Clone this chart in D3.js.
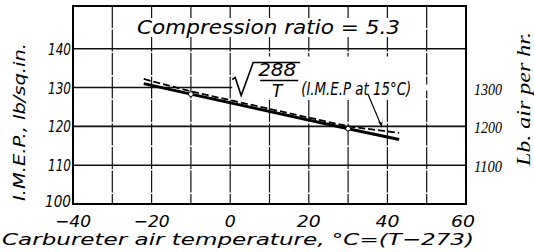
<!DOCTYPE html>
<html>
<head>
<meta charset="utf-8">
<script src="https://cdn.jsdelivr.net/npm/d3@7"></script>
<style>
  body { margin: 0; background: #fff; }
  svg { display: block; }
  .sans { font-family: "DejaVu Sans", "Liberation Sans", sans-serif; font-style: italic; }
  .serif { font-family: "Liberation Serif", "DejaVu Serif", serif; font-style: italic; }
</style>
</head>
<body>
<svg class="chart"></svg>
<script>
// temperature (deg C) and readings
const temps = [-22, -10, 30, 43];
const imep = [131, 128.3, 119.4, 116.6];          // lb/sq.in.
const corrected = [132.2, 129, 120, 118.3];        // sqrt(288/T) x I.M.E.P. at 15 C
const pointTemps = [-10, 30];
const pointImep = [128.3, 119.4];
const xTicks = [-40, -20, 0, 20, 40, 60];
const xGrid = [-30, -20, -10, 0, 10, 20, 30, 40, 50];
const yTicks = [100, 110, 120, 130, 140];
const airTicks = [1100, 1200, 1300];

function chart() {
    const width = 534, height = 252;
    const margin = {top: 6, right: 68, bottom: 48, left: 73};

    const svg = d3.select(".chart")
        .attr("width", width)
        .attr("height", height);

    const x = d3.scaleLinear()
        .domain([-40, 60])
        .range([margin.left, width - margin.right]);

    const y = d3.scaleLinear()
        .domain([100, 151])
        .range([height - margin.bottom, margin.top]);

    // right axis: lb air per hr, same heights as I.M.E.P. x 10
    const yAir = d3.scaleLinear()
        .domain([1000, 1510])
        .range([height - margin.bottom, margin.top]);

    const x0 = x.range()[0], x1 = x.range()[1];
    const y0 = y.range()[0], y1 = y.range()[1];

    // grid
    svg.append("g")
        .selectAll("line")
        .data(xGrid)
        .join("line")
        .attr("x1", d => x(d)).attr("x2", d => x(d))
        .attr("y1", y1).attr("y2", y0)
        .attr("stroke", "#111")
        .attr("stroke-width", 1.2)
        .attr("stroke-dasharray", "22,1.5");

    svg.append("g")
        .selectAll("line")
        .data(yTicks.slice(1))
        .join("line")
        .attr("x1", x0).attr("x2", x1)
        .attr("y1", d => y(d)).attr("y2", d => y(d))
        .attr("stroke", "#111")
        .attr("stroke-width", 1.6);

    // frame
    svg.append("rect")
        .attr("x", x0).attr("y", y1)
        .attr("width", x1 - x0).attr("height", y0 - y1)
        .attr("fill", "none")
        .attr("stroke", "#000")
        .attr("stroke-width", 2);

    // compression ratio label with white backing
    svg.append("rect")
        .attr("x", 135).attr("y", 18)
        .attr("width", 268).attr("height", 19)
        .attr("fill", "#fff");
    svg.append("text")
        .attr("class", "sans")
        .attr("x", 137).attr("y", 34)
        .attr("font-size", 19)
        .attr("textLength", 263)
        .attr("lengthAdjust", "spacingAndGlyphs")
        .text("Compression ratio = 5.3");

    // annotation for corrected curve
    const ax = x(0) + 2, ay = y(130);
    svg.append("rect")
        .attr("x", ax).attr("y", ay - 31)
        .attr("width", 180).attr("height", 42)
        .attr("fill", "#fff");
    svg.append("rect")
        .attr("x", ax + 180).attr("y", ay - 3)
        .attr("width", x1 - ax - 181).attr("height", 6)
        .attr("fill", "#fff");
    const ann = svg.append("g")
        .attr("transform", `translate(${ax},${ay})`);
    ann.append("path")
        .attr("d", "M0,-8 L3,-10 L9,8 L21,-25 L68,-25")
        .attr("fill", "none")
        .attr("stroke", "#000")
        .attr("stroke-width", 1.6);
    ann.append("text")
        .attr("class", "sans")
        .attr("x", 45).attr("y", -12)
        .attr("text-anchor", "middle")
        .attr("font-size", 17)
        .attr("textLength", 38)
        .attr("lengthAdjust", "spacingAndGlyphs")
        .text("288");
    ann.append("line")
        .attr("x1", 28).attr("x2", 66)
        .attr("y1", -7).attr("y2", -7)
        .attr("stroke", "#000")
        .attr("stroke-width", 1.5);
    ann.append("text")
        .attr("class", "sans")
        .attr("x", 45).attr("y", 9)
        .attr("text-anchor", "middle")
        .attr("font-size", 17)
        .text("T");
    ann.append("text")
        .attr("class", "sans")
        .attr("x", 69).attr("y", 7)
        .attr("font-size", 17)
        .attr("textLength", 110)
        .attr("lengthAdjust", "spacingAndGlyphs")
        .text("(I.M.E.P  at 15°C)");

    // arrow to corrected curve
    svg.append("line")
        .attr("x1", x(35)).attr("y1", y(128.4))
        .attr("x2", x(38.6)).attr("y2", y(119.8))
        .attr("stroke", "#000")
        .attr("stroke-width", 1.2);
    const tip = [x(38.6), y(119.8)];
    svg.append("path")
        .attr("d", `M${tip[0]},${tip[1]} l-4,-6 l4,1.5 l1,-6.5 z`)
        .attr("fill", "#000");

    // lines
    const line = d3.line()
        .x((d, i) => x(temps[i]))
        .y(d => y(d));

    svg.append("path")
        .datum(imep)
        .attr("fill", "none")
        .attr("stroke", "#000")
        .attr("stroke-width", 3)
        .attr("d", line);

    svg.append("path")
        .datum(corrected)
        .attr("fill", "none")
        .attr("stroke", "#000")
        .attr("stroke-width", 1.8)
        .attr("stroke-dasharray", "7,3")
        .attr("d", line);

    svg.append("g")
        .selectAll("circle")
        .data(pointTemps)
        .join("circle")
        .attr("cx", d => x(d))
        .attr("cy", (d, i) => y(pointImep[i]))
        .attr("r", 2.4)
        .attr("fill", "#fff")
        .attr("stroke", "#000")
        .attr("stroke-width", 1);

    // tick labels
    const xLabelWidth = d => d === 0 ? 11 : d < 0 ? 36 : 24;
    svg.append("g")
        .selectAll("text")
        .data(xTicks)
        .join("text")
        .attr("class", "sans")
        .attr("x", d => x(d) - (d === 60 ? 3 : 0))
        .attr("y", y0 + 23)
        .attr("text-anchor", "middle")
        .attr("font-size", 16)
        .attr("textLength", xLabelWidth)
        .attr("lengthAdjust", "spacingAndGlyphs")
        .text(d => d < 0 ? "\u2212" + Math.abs(d) : d);

    svg.append("g")
        .selectAll("text")
        .data(yTicks)
        .join("text")
        .attr("class", "sans")
        .attr("x", x0 - 2)
        .attr("y", d => y(d) + (d === 100 ? 3 : 6))
        .attr("text-anchor", "end")
        .attr("font-size", 16)
        .attr("textLength", d => d === 100 ? 26 : 23)
        .attr("lengthAdjust", "spacingAndGlyphs")
        .text(d => d);

    svg.append("g")
        .selectAll("text")
        .data(airTicks)
        .join("text")
        .attr("class", "serif")
        .attr("x", x1 + 8)
        .attr("y", d => yAir(d) + 7)
        .attr("font-size", 16)
        .attr("textLength", 28)
        .attr("lengthAdjust", "spacingAndGlyphs")
        .text(d => d);

    // axis titles
    svg.append("text")
        .attr("class", "sans")
        .attr("x", 2).attr("y", 245)
        .attr("font-size", 16)
        .attr("textLength", 472)
        .attr("lengthAdjust", "spacingAndGlyphs")
        .text("Carbureter air temperature, °C=(T\u2212273)");

    svg.append("text")
        .attr("class", "sans")
        .attr("transform", "translate(25,122) rotate(-90)")
        .attr("text-anchor", "middle")
        .attr("font-size", 16)
        .attr("textLength", 158)
        .attr("lengthAdjust", "spacingAndGlyphs")
        .text("I.M.E.P., lb/sq.in.");

    svg.append("text")
        .attr("class", "serif")
        .attr("transform", "translate(530,99) rotate(-90)")
        .attr("text-anchor", "middle")
        .attr("font-size", 18)
        .attr("textLength", 134)
        .attr("lengthAdjust", "spacingAndGlyphs")
        .text("Lb. air per hr.");
}

chart();
</script>
</body>
</html>
